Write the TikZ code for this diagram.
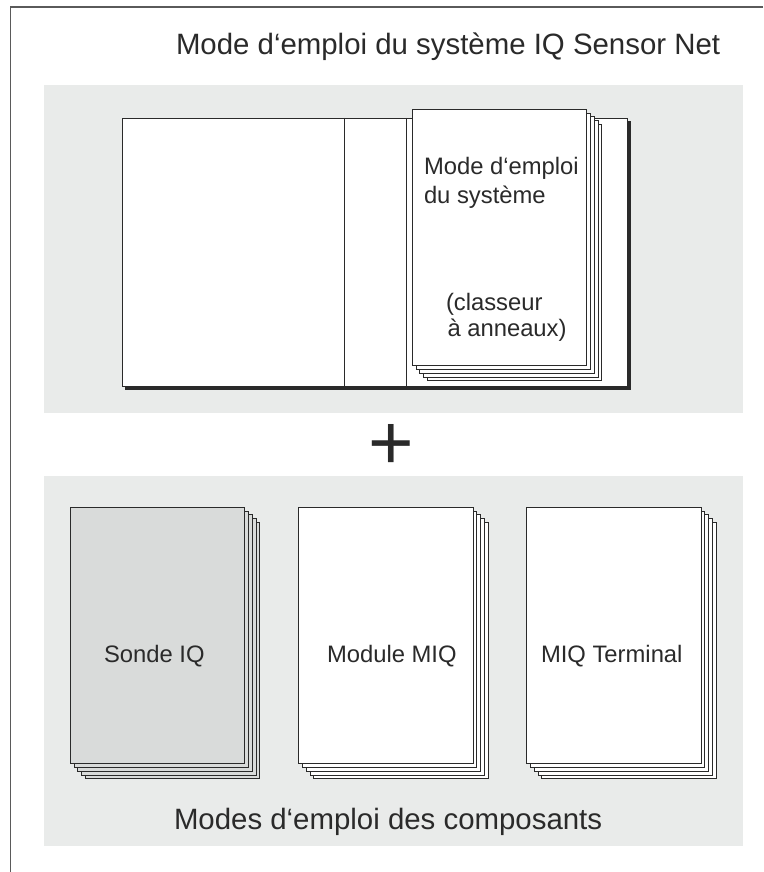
\documentclass[tikz,border=0pt]{standalone}
\usepackage{fontspec}
\setmainfont{Liberation Sans}
\definecolor{panel}{HTML}{E9EBEA}
\definecolor{ink}{HTML}{2A2A2A}
\definecolor{sondegray}{HTML}{D9DBDA}
\definecolor{framegray}{HTML}{5A5A5A}
\newcommand{\sheetstack}[4]{% left, top (px), fill, name
  \foreach \k in {4,3,2,1,0}{
    \ifnum\k=0\relax
      \node[sheet, fill=#3, minimum width=174.4*\u, minimum height=256.4*\u] (#4) at ({#1+87.2+3.75*\k},{-(#2+128.2+3.75*\k)}) {};
    \else
      \node[sheet, fill=#3, minimum width=174.4*\u, minimum height=256.4*\u] (#4-\k) at ({#1+87.2+3.75*\k},{-(#2+128.2+3.75*\k)}) {};
    \fi
  }
}
\tikzset{
  sheet/.style={draw=ink, line width=0.9pt, inner sep=0pt, outer sep=0pt},
  label/.style={inner sep=0pt, outer sep=0pt, text=ink, anchor=base west},
  big/.style={label, font=\fontsize{29.4}{32}\selectfont},
  small/.style={label, font=\fontsize{23.8}{26}\selectfont},
}
\begin{document}
\begin{tikzpicture}[x=1pt,y=1pt]
\pgfmathsetlengthmacro{\u}{1pt}
\useasboundingbox (0,0) rectangle (763,-872);
\fill[white] (0,0) rectangle (763,-872);
\draw[framegray, line width=1.2pt] (763,-7) -- (10.5,-7) -- (10.5,-872);
\fill[panel] (44,-85) rectangle (743,-413);
\fill[panel] (44,-476) rectangle (743,-846);
\node[big] (title) at (176,-55) {Mode d‘emploi du système IQ Sensor Net};
% binder
\fill[ink] (125,-121) rectangle (631,-390);
\node[sheet, fill=white, minimum width=504.5*\u, minimum height=268*\u, anchor=north west] (binder) at (122.5,-118) {};
\coordinate (s1t) at (344.6,-118); \coordinate (s1b) at (344.6,-387);
\coordinate (s2t) at (406.3,-118); \coordinate (s2b) at (406.3,-387);
\draw[ink, line width=0.8pt] (s1t) -- (s1b);
\draw[ink, line width=0.8pt] (s2t) -- (s2b);
\sheetstack{412.3}{109.3}{white}{manual}
\node[small] (t1) at (424,-174) {Mode d‘emploi};
\node[small] (t2) at (424,-203) {du système};
\node[small] (t3) at (446,-310) {(classeur};
\node[small] (t4) at (447.5,-336) {à anneaux)};
\node[inner sep=0pt, text=ink, font=\fontsize{78}{78}\selectfont] (plus) at (391.7,-447) {+};
\sheetstack{70.3}{507.3}{sondegray}{sonde}
\sheetstack{298.7}{507.3}{white}{module}
\sheetstack{526.7}{507.3}{white}{terminal}
\node[small] (a) at (104,-662) {Sonde IQ};
\node[small] (b) at (327,-662) {Module MIQ};
\node[small] (c) at (541,-662) {MIQ Terminal};
\node[big] (foot) at (174,-829) {Modes d‘emploi des composants};
\end{tikzpicture}
\end{document}
